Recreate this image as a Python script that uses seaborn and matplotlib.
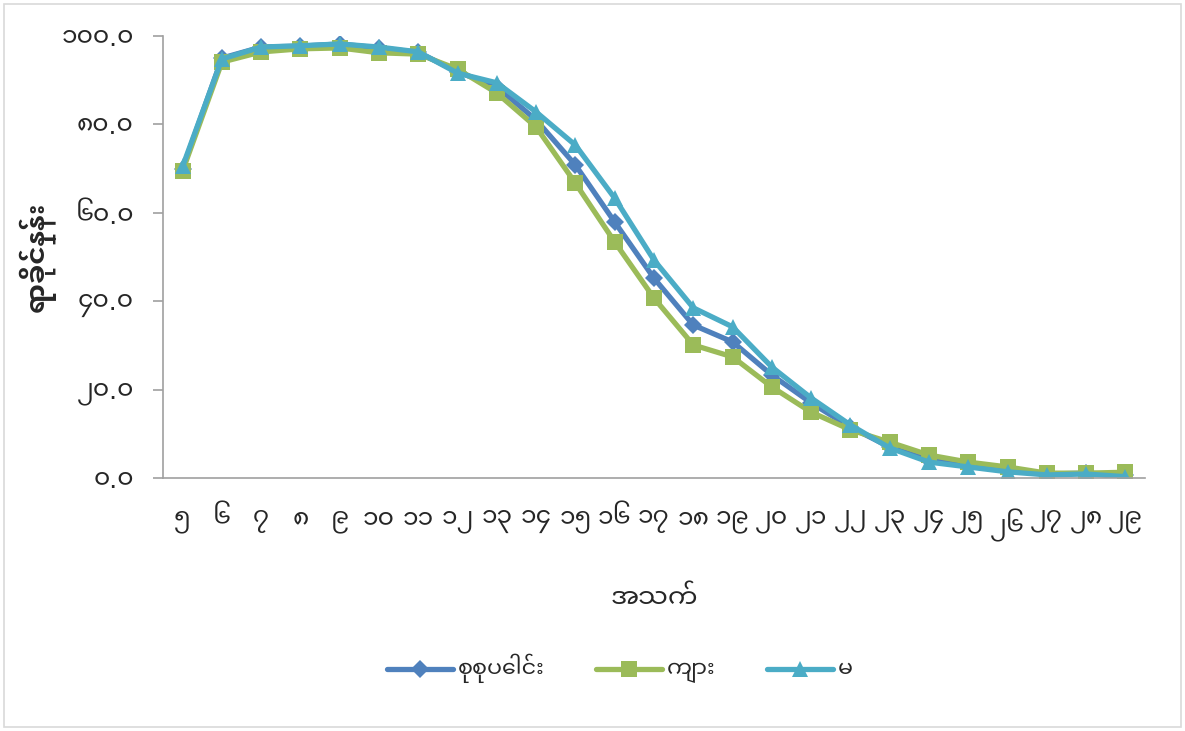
import matplotlib
matplotlib.use("Agg")
import matplotlib.pyplot as plt
import seaborn as sns
import pandas as pd
from matplotlib.patches import Rectangle
from matplotlib.lines import Line2D

# ---- data ----
age_labels = ["၅", "၆", "၇", "၈", "၉", "၁၀", "၁၁", "၁၂", "၁၃", "၁၄", "၁၅", "၁၆", "၁၇",
              "၁၈", "၁၉", "၂၀", "၂၁", "၂၂", "၂၃", "၂၄", "၂၅", "၂၆", "၂၇", "၂၈", "၂၉"]
total = [70.0, 95.0, 97.5, 97.7, 98.2, 97.3, 96.3, 91.9, 88.5, 81.0, 70.8, 57.9, 45.2,
         34.6, 30.8, 23.3, 17.0, 11.5, 7.0, 4.1, 2.7, 1.8, 0.9, 1.1, 0.7]
male = [69.5, 94.1, 96.4, 97.1, 97.3, 96.2, 95.9, 92.5, 87.1, 79.4, 66.7, 53.4, 40.7,
        30.1, 27.4, 20.6, 14.9, 10.9, 8.1, 5.2, 3.6, 2.5, 1.1, 1.1, 1.3]
female = [70.5, 94.8, 97.5, 97.8, 98.2, 97.5, 96.4, 91.6, 89.4, 82.8, 75.3, 63.3, 49.3,
          38.5, 34.2, 25.1, 18.1, 12.0, 6.8, 3.6, 2.5, 1.4, 0.7, 0.9, 0.3]
series_names = ["စုစုပေါင်း", "ကျား", "မ"]
y_ticks = [0, 20, 40, 60, 80, 100]
y_tick_labels = ["၀.၀", "၂၀.၀", "၄၀.၀", "၆၀.၀", "၈၀.၀", "၁၀၀.၀"]
x_title = "အသက်"
y_title = "ရာခိုင်နှုန်း"

colors = ["#4F81BD", "#9BBB59", "#4BACC6"]
markers = ["D", "s", "^"]

sns.set_style("white")
FAM = ["Noto Sans Myanmar UI", "DejaVu Sans"]
plt.rcParams["font.family"] = FAM

df = pd.DataFrame({
    "x": list(range(len(age_labels))) * 3,
    "value": total + male + female,
    "series": [series_names[0]] * len(total) + [series_names[1]] * len(male) + [series_names[2]] * len(female),
})

fig = plt.figure(figsize=(11.85, 7.31), dpi=100)
ax = fig.add_axes([163 / 1185, 1 - 478 / 731, (1145 - 163) / 1185, (478 - 36) / 731])

for name, c, m in zip(series_names, colors, markers):
    sub = df[df["series"] == name]
    sns.lineplot(data=sub, x="x", y="value", ax=ax, color=c, marker=m,
                 markersize=11 if m != "D" else 9, markeredgewidth=0,
                 linewidth=3.8, legend=False, label=name)

ax.set_xlim(-0.5, len(age_labels) - 0.5)
ax.set_ylim(0, 100)
ax.set_xticks(range(len(age_labels)))
ax.set_xticklabels(age_labels, fontsize=18)
ax.set_xticks([i - 0.5 for i in range(len(age_labels) + 1)], minor=True)
ax.tick_params(axis="x", which="major", length=0, pad=22)
ax.tick_params(axis="x", which="minor", length=7, color="#A0A0A0", width=1.2, direction="out")
ax.set_yticks(y_ticks)
ax.set_yticklabels(y_tick_labels, fontsize=18)
ax.tick_params(axis="y", length=7, color="#A0A0A0", width=1.2, direction="out", pad=14, left=True)

for s in ["top", "right"]:
    ax.spines[s].set_visible(False)
for s in ["left", "bottom"]:
    ax.spines[s].set_color("#A0A0A0")
    ax.spines[s].set_linewidth(1.2)

ax.set_xlabel(x_title, fontsize=19, labelpad=33)
ax.set_ylabel(y_title, fontsize=20, fontweight="bold", labelpad=4)

handles = [Line2D([0], [0], color=c, marker=m, linewidth=3.8, markersize=11 if m != "D" else 9,
                  markeredgewidth=0) for c, m in zip(colors, markers)]
fig.legend(handles, series_names, loc="center", bbox_to_anchor=(0.523, 1 - 668 / 731),
           ncol=3, frameon=False, fontsize=16, handlelength=3.0, columnspacing=2.3,
           handletextpad=0.2)

fig.patches.append(Rectangle((4 / 1185, 4 / 731), 1 - 8 / 1185, 1 - 8 / 731,
                             transform=fig.transFigure, fill=False,
                             edgecolor="#D9D9D9", linewidth=1.2))

fig.savefig("out.png", dpi=100)
